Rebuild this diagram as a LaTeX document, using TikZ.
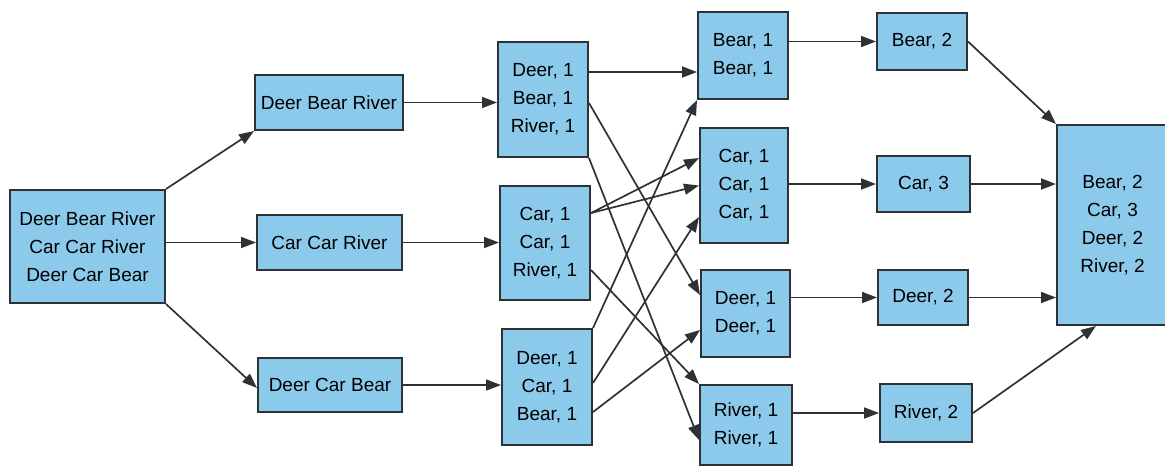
\documentclass[tikz,border=0pt]{standalone}
\usepackage{fontspec}
\setmainfont{Liberation Sans}
\usetikzlibrary{arrows.meta}
\definecolor{boxblue}{RGB}{140,202,236}
\definecolor{edgegray}{RGB}{45,50,55}
\tikzset{
  box/.style={draw=edgegray, line width=1pt, fill=boxblue, align=center, inner sep=0pt,
    font=\fontsize{9.5}{14}\selectfont},
  flow/.style={draw=edgegray, line width=0.85pt, -{Triangle[length=7.5pt,width=5.5pt]}}
}
\begin{document}
\begin{tikzpicture}[x=0.5pt, y=-0.5pt]
  \useasboundingbox (0,0) rectangle (1165,468);
  % input and splitting
  \node[box, minimum width=77.5pt, minimum height=56.5pt] (input) at (87.5,246.5) {Deer Bear River\\Car Car River\\Deer Car Bear};
  \node[box, minimum width=74pt, minimum height=27.5pt] (splitA) at (329,102.5) {Deer Bear River};
  \node[box, minimum width=72.5pt, minimum height=27.5pt] (splitB) at (329.5,242.5) {Car Car River};
  \node[box, minimum width=72pt, minimum height=27pt] (splitC) at (330,385) {Deer Car Bear};
  % mapping
  \node[box, minimum width=45pt, minimum height=57.5pt] (mapA) at (543,99.5) {Deer, 1\\Bear, 1\\River, 1};
  \node[box, minimum width=45pt, minimum height=57pt] (mapB) at (545,243) {Car, 1\\Car, 1\\River, 1};
  \node[box, minimum width=45pt, minimum height=58pt] (mapC) at (547,387) {Deer, 1\\Car, 1\\Bear, 1};
  % shuffling
  \node[box, minimum width=45pt, minimum height=43.5pt] (shufBear) at (743,55.5) {Bear, 1\\Bear, 1};
  \node[box, minimum width=44pt, minimum height=57.5pt] (shufCar) at (744,185.5) {Car, 1\\Car, 1\\Car, 1};
  \node[box, minimum width=44.5pt, minimum height=43.5pt] (shufDeer) at (745.5,313.5) {Deer, 1\\Deer, 1};
  \node[box, minimum width=46pt, minimum height=40pt] (shufRiver) at (746,425) {River, 1\\River, 1};
  % reducing
  \node[box, minimum width=45pt, minimum height=28.5pt] (redBear) at (922,41.5) {Bear, 2};
  \node[box, minimum width=46.5pt, minimum height=28pt] (redCar) at (923.5,184) {Car, 3};
  \node[box, minimum width=45pt, minimum height=27.5pt] (redDeer) at (923,297.5) {Deer, 2};
  \node[box, minimum width=46pt, minimum height=29pt] (redRiver) at (926,413) {River, 2};
  % final result
  \node[box, minimum width=55.5pt, minimum height=100pt] (final) at (1112.5,225) {Bear, 2\\Car, 3\\Deer, 2\\River, 2};

  \draw[flow] (input.north east) -- (splitA.south west);
  \draw[flow] (input.east |- splitB.west) -- (splitB.west);
  \draw[flow] (input.south east) -- ([yshift=-1.5pt]splitC.west);
  \draw[flow] (splitA.east) -- (splitA.east -| mapA.west);
  \draw[flow] (splitB.east) -- (splitB.east -| mapB.west);
  \draw[flow] (splitC.east) -- (splitC.east -| mapC.west);

  \draw[flow] ([yshift=13.75pt]mapA.east) -- ([yshift=13.75pt]mapA.east -| shufBear.west);
  \draw[flow] ([yshift=-1.75pt]mapA.east) -- ([yshift=9.25pt]shufDeer.west);
  \draw[flow] (mapA.south east) -- ([yshift=-7.5pt]shufRiver.west);
  \draw[flow] ([yshift=15pt]mapB.east) -- ([yshift=13.75pt]shufCar.west);
  \draw[flow] ([yshift=15pt]mapB.east) -- (shufCar.west);
  \draw[flow] ([yshift=-13.5pt]mapB.east) -- (shufRiver.north west);
  \draw[flow] (mapC.north east) -- (shufBear.south west);
  \draw[flow] ([yshift=2pt]mapC.east) -- ([yshift=-15.75pt]shufCar.west);
  \draw[flow] ([yshift=-12.5pt]mapC.east) -- ([yshift=-8.25pt]shufDeer.west);

  \draw[flow] (shufBear.east |- redBear.west) -- (redBear.west);
  \draw[flow] (shufCar.east |- redCar.west) -- (redCar.west);
  \draw[flow] (shufDeer.east |- redDeer.west) -- (redDeer.west);
  \draw[flow] (shufRiver.east |- redRiver.west) -- (redRiver.west);

  \draw[flow] (redBear.east) -- (final.north west);
  \draw[flow] (redCar.east) -- (redCar.east -| final.west);
  \draw[flow] (redDeer.east) -- (redDeer.east -| final.west);
  \draw[flow] (redRiver.east) -- ([xshift=20pt]final.south west);
\end{tikzpicture}
\end{document}
